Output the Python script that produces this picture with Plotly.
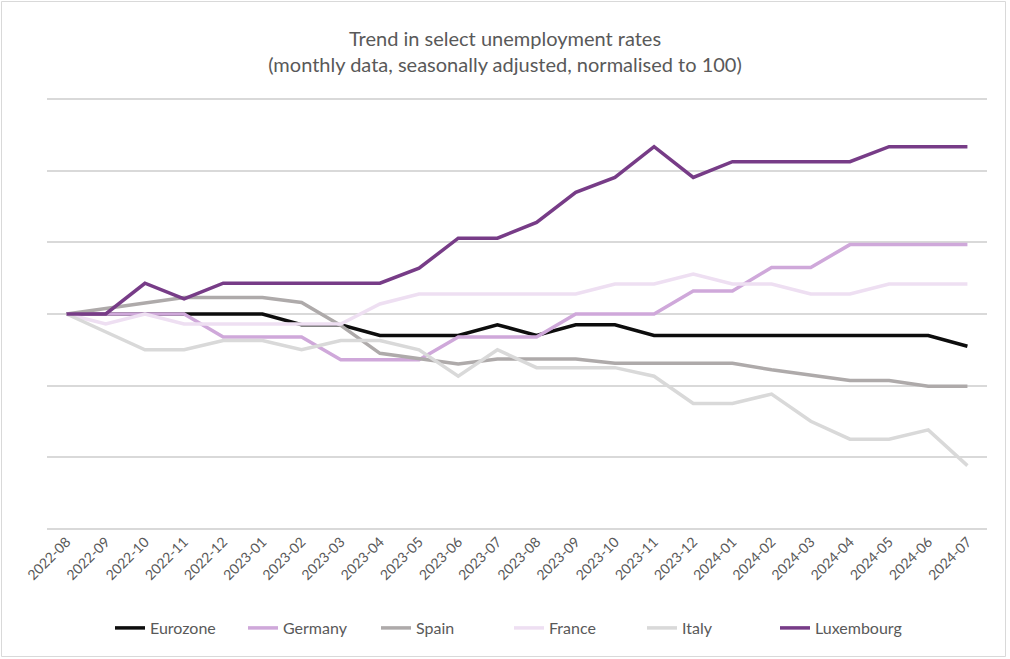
import plotly.graph_objects as go

months = ["2022-08", "2022-09", "2022-10", "2022-11", "2022-12", "2023-01", "2023-02", "2023-03",
          "2023-04", "2023-05", "2023-06", "2023-07", "2023-08", "2023-09", "2023-10", "2023-11",
          "2023-12", "2024-01", "2024-02", "2024-03", "2024-04", "2024-05", "2024-06", "2024-07"]

eurozone = [100, 100, 100, 100, 100, 100, 98.5, 98.5, 97.0, 97.0, 97.0, 98.5, 97.0, 98.5, 98.5, 97.0,
            97.0, 97.0, 97.0, 97.0, 97.0, 97.0, 97.0, 95.5]
germany = [100, 100, 100, 100, 96.8, 96.8, 96.8, 93.6, 93.6, 93.6, 96.8, 96.8, 96.8, 100, 100, 100,
           103.2, 103.2, 106.5, 106.5, 109.7, 109.7, 109.7, 109.7]
spain = [100, 100.8, 101.5, 102.3, 102.3, 102.3, 101.6, 98.4, 94.5, 93.8, 93.0, 93.7, 93.7, 93.7, 93.1,
         93.1, 93.1, 93.1, 92.2, 91.5, 90.7, 90.7, 89.9, 89.9]
france = [100, 98.6, 100, 98.6, 98.6, 98.6, 98.6, 98.6, 101.4, 102.8, 102.8, 102.8, 102.8, 102.8, 104.2,
          104.2, 105.6, 104.2, 104.2, 102.8, 102.8, 104.2, 104.2, 104.2]
italy = [100, 97.5, 95.0, 95.0, 96.3, 96.3, 95.0, 96.3, 96.3, 95.0, 91.3, 95.0, 92.5, 92.5, 92.5, 91.3,
         87.5, 87.5, 88.8, 85.0, 82.5, 82.5, 83.8, 78.8]
luxembourg = [100, 100, 104.3, 102.1, 104.3, 104.3, 104.3, 104.3, 104.3, 106.4, 110.6, 110.6, 112.8,
              117.0, 119.1, 123.4, 119.1, 121.3, 121.3, 121.3, 121.3, 123.4, 123.4, 123.4]

series = [
    ("Eurozone", eurozone, "#0d0d0d"),
    ("Germany", germany, "#cfa8da"),
    ("Spain", spain, "#aeaaaa"),
    ("France", france, "#eedff2"),
    ("Italy", italy, "#d9d9d9"),
    ("Luxembourg", luxembourg, "#773c87"),
]

FONT = "Lato, Calibri, 'Open Sans', sans-serif"
TXT = "#595959"

fig = go.Figure()
for name, vals, col in series:
    fig.add_trace(go.Scatter(x=months, y=vals, name=name, mode="lines",
                             line=dict(color=col, width=3.5)))

W, H = 1010, 659
L, R, T, B = 47, 23, 98, 129
pw, ph = W - L - R, H - T - B

fig.update_layout(
    width=W, height=H,
    margin=dict(l=L, r=R, t=T, b=B, autoexpand=False),
    paper_bgcolor="white", plot_bgcolor="white",
    font=dict(family=FONT, color=TXT),
    title=dict(text="Trend in select unemployment rates<br>(monthly data, seasonally adjusted, normalised to 100)",
               x=0.5, xanchor="center", xref="container", y=0.93, yanchor="middle", yref="container",
               font=dict(size=20, color=TXT, family=FONT)),
    showlegend=True,
    legend=dict(orientation="h", x=(509 - L) / pw, xanchor="center", y=(T + ph - 628) / ph, yanchor="middle",
                font=dict(size=16, color=TXT, family=FONT), itemwidth=30, bgcolor="rgba(0,0,0,0)",
                entrywidth=88, entrywidthmode="pixels"),
    xaxis=dict(type="category", range=[-0.5, len(months) - 0.5], showgrid=False, showline=False,
               zeroline=False, tickangle=-45, ticks="", tickfont=dict(size=14, color=TXT, family=FONT)),
    yaxis=dict(range=[69.8, 130.2], dtick=10, tick0=70, showgrid=True, gridcolor="#d9d9d9", gridwidth=1.5,
               showticklabels=False, zeroline=False, showline=False, ticks=""),
    shapes=[dict(type="rect", xref="paper", yref="paper",
                 x0=(1.5 - L) / pw, x1=(1005.5 - L) / pw,
                 y0=(T + ph - 656.5) / ph, y1=(T + ph - 1.5) / ph,
                 line=dict(color="#d9d9d9", width=1), fillcolor="rgba(0,0,0,0)", layer="below")],
)

fig.write_html("out.html", config={"displayModeBar": False},
               post_script="document.body.style.margin='0';document.body.style.overflow='hidden';")
